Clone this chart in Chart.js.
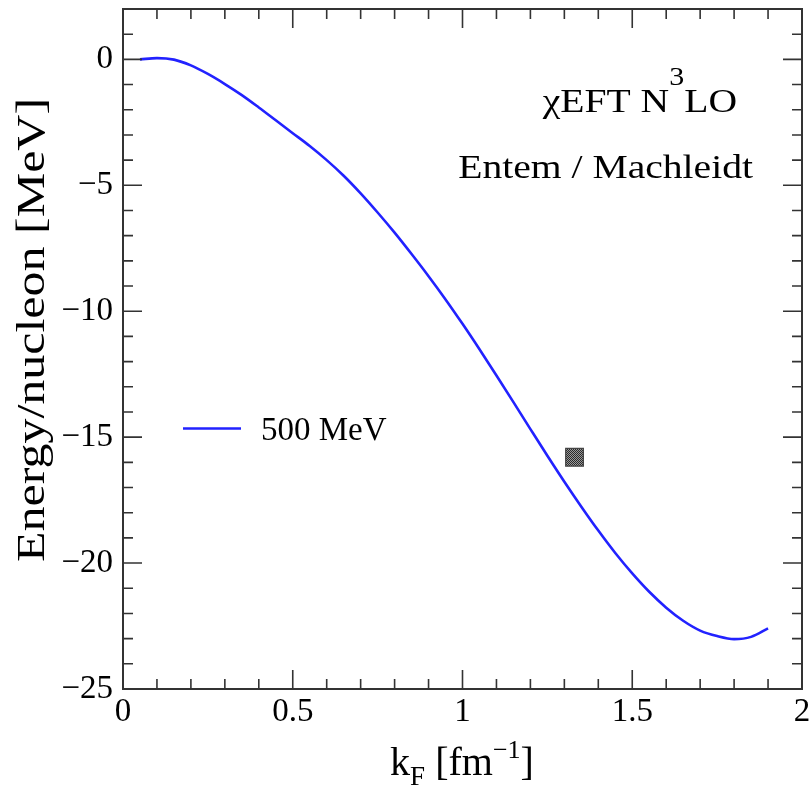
<!DOCTYPE html>
<html>
<head>
<meta charset="utf-8">
<script src="https://cdn.jsdelivr.net/npm/chart.js@4.4.0/dist/chart.umd.min.js"></script>
<style>
  html, body { margin: 0; padding: 0; background: #fff; }
  #wrap { width: 812px; height: 793px; }
</style>
</head>
<body>
<div id="wrap"><canvas id="chart" width="812" height="793"></canvas></div>
<script>
// Fermi momentum k_F [fm^-1]
const kF = [0.05, 0.10, 0.15, 0.20, 0.25, 0.30, 0.35, 0.40, 0.45, 0.50,
            0.55, 0.60, 0.65, 0.70, 0.75, 0.80, 0.85, 0.90, 0.95, 1.00,
            1.05, 1.10, 1.15, 1.20, 1.25, 1.30, 1.35, 1.40, 1.45, 1.50,
            1.55, 1.60, 1.65, 1.70, 1.75, 1.80, 1.85, 1.90];
// Energy per nucleon [MeV], N3LO 500 MeV cutoff
const energy = [0.00, 0.05, -0.01, -0.24, -0.58, -0.98, -1.42, -1.91, -2.42, -2.93,
                -3.44, -4.00, -4.62, -5.32, -6.08, -6.88, -7.73, -8.61, -9.53, -10.50,
                -11.51, -12.55, -13.61, -14.68, -15.74, -16.77, -17.76, -18.71, -19.60, -20.41,
                -21.14, -21.77, -22.29, -22.68, -22.90, -23.02, -22.93, -22.59];
// Empirical saturation point
const satKF = [1.33];
const satE = [-15.8];

const xTickValues = [0, 0.5, 1, 1.5, 2];
const yTickValues = [-25, -20, -15, -10, -5, 0];
const seriesName = '500 MeV';

const SERIF = '"Liberation Serif", "Times New Roman", serif';
const FRAME = '#333333';
const PLOT_BOX = { left: 123, top: 9, right: 802, bottom: 689 };

// checkered fill for the saturation box
function checkerPattern() {
  const c = document.createElement('canvas');
  c.width = 2; c.height = 2;
  const g = c.getContext('2d');
  g.fillStyle = '#9a9a9a'; g.fillRect(0, 0, 2, 2);
  g.fillStyle = '#2a2a2a'; g.fillRect(0, 0, 1, 1); g.fillRect(1, 1, 1, 1);
  return g.createPattern(c, 'repeat');
}

// draw a run of text pieces (for sub/superscripts), optionally stretched horizontally
function drawRuns(ctx, runs, x, y, align, sx) {
  let w = 0;
  runs.forEach(r => { ctx.font = r.font; r.w = ctx.measureText(r.t).width; w += r.w; });
  ctx.save();
  ctx.translate(x, y);
  ctx.scale(sx, 1);
  ctx.textBaseline = 'alphabetic';
  ctx.textAlign = 'left';
  ctx.fillStyle = '#000';
  let cx = align === 'right' ? -w : align === 'center' ? -w / 2 : 0;
  runs.forEach(r => { ctx.font = r.font; ctx.fillText(r.t, cx, r.dy || 0); cx += r.w; });
  ctx.restore();
}

// fix the plot box so the frame sits where the figure wants it
const pinArea = {
  id: 'pinArea',
  afterLayout(chart) {
    const { chartArea: a, scales: { x, y } } = chart;
    a.left = PLOT_BOX.left; a.top = PLOT_BOX.top; a.right = PLOT_BOX.right; a.bottom = PLOT_BOX.bottom;
    a.width = a.right - a.left; a.height = a.bottom - a.top;
    x.left = a.left; x.right = a.right; x.width = a.width; x.top = a.bottom;
    y.top = a.top; y.bottom = a.bottom; y.height = a.height; y.right = a.left;
    x.configure(); y.configure();
  }
};

const decorations = {
  id: 'decorations',
  afterDatasetsDraw(chart) {
    const { ctx, chartArea: a, scales: { x, y } } = chart;
    ctx.save();
    // frame
    ctx.strokeStyle = FRAME;
    ctx.lineWidth = 2;
    ctx.strokeRect(a.left, a.top, a.right - a.left, a.bottom - a.top);

    // inward ticks on all four sides
    ctx.lineWidth = 1.6;
    ctx.beginPath();
    for (let i = 1; i < 20; i++) {
      const px = x.getPixelForValue(i / 10);
      const len = i % 5 === 0 ? 19 : 10;
      ctx.moveTo(px, a.bottom); ctx.lineTo(px, a.bottom - len);
      ctx.moveTo(px, a.top); ctx.lineTo(px, a.top + len);
    }
    for (let v = -24; v <= 1; v++) {
      const py = y.getPixelForValue(v);
      const len = v % 5 === 0 ? 19 : 10;
      ctx.moveTo(a.left, py); ctx.lineTo(a.left + len, py);
      ctx.moveTo(a.right, py); ctx.lineTo(a.right - len, py);
    }
    ctx.stroke();

    // legend
    const ds = chart.data.datasets[0];
    ctx.strokeStyle = ds.borderColor;
    ctx.lineWidth = ds.borderWidth;
    ctx.beginPath();
    ctx.moveTo(183, 428.5); ctx.lineTo(241, 428.5);
    ctx.stroke();
    drawRuns(ctx, [{ t: ds.label, font: '33px ' + SERIF }], 261, 440, 'left', 1);

    // annotation
    drawRuns(ctx, [
      { t: '\u03C7EFT N', font: '33px ' + SERIF },
      { t: '3', font: '25px ' + SERIF, dy: -27 },
      { t: 'LO', font: '33px ' + SERIF }
    ], 737, 112, 'right', 1.2);
    drawRuns(ctx, [{ t: 'Entem / Machleidt', font: '33px ' + SERIF }], 753, 178, 'right', 1.2);

    // x axis title: k_F [fm^-1]
    drawRuns(ctx, [
      { t: 'k', font: '40px ' + SERIF },
      { t: 'F', font: '27px ' + SERIF, dy: 10 },
      { t: ' [fm', font: '40px ' + SERIF },
      { t: '\u22121', font: '26px ' + SERIF, dy: -17 },
      { t: ']', font: '40px ' + SERIF }
    ], 462, 775, 'center', 1);

    // y axis title
    ctx.save();
    ctx.translate(44, 330);
    ctx.rotate(-Math.PI / 2);
    drawRuns(ctx, [{ t: 'Energy/nucleon [MeV]', font: '40px ' + SERIF }], 0, 0, 'center', 1.25);
    ctx.restore();

    ctx.restore();
  }
};

const curve = kF.map((k, i) => ({ x: k, y: energy[i] }));
const sat = satKF.map((k, i) => ({ x: k, y: satE[i] }));

new Chart(document.getElementById('chart'), {
  type: 'scatter',
  data: {
    datasets: [
      {
        label: seriesName,
        data: curve,
        showLine: true,
        borderColor: '#2222ff',
        borderWidth: 2.6,
        pointRadius: 0,
        cubicInterpolationMode: 'monotone',
        fill: false
      },
      {
        label: 'saturation',
        data: sat,
        pointStyle: 'rect',
        pointRadius: 12.5,
        backgroundColor: checkerPattern(),
        borderColor: '#444',
        borderWidth: 1.2
      }
    ]
  },
  options: {
    responsive: false,
    animation: false,
    devicePixelRatio: 1,
    layout: { padding: { left: 0, top: 8, right: 10, bottom: 0 } },
    plugins: { legend: { display: false }, tooltip: { enabled: false } },
    scales: {
      x: {
        type: 'linear', min: 0, max: 2,
        afterBuildTicks: s => { s.ticks = xTickValues.map(v => ({ value: v })); },
        afterFit: s => { s.height = 793 - 689; },
        grid: { display: false, drawTicks: false },
        border: { display: false },
        ticks: {
          font: { family: SERIF, size: 33 }, color: '#000', padding: 4,
          maxRotation: 0, autoSkip: false,
          callback: v => String(v)
        }
      },
      y: {
        type: 'linear', min: -25, max: 2,
        afterBuildTicks: s => { s.ticks = yTickValues.map(v => ({ value: v })); },
        afterFit: s => { s.width = 123; },
        grid: { display: false, drawTicks: false },
        border: { display: false },
        ticks: {
          font: { family: SERIF, size: 33 }, color: '#000', padding: 10,
          autoSkip: false,
          callback: v => String(v).replace('-', '\u2212')
        }
      }
    }
  },
  plugins: [pinArea, decorations]
});
</script>
</body>
</html>
